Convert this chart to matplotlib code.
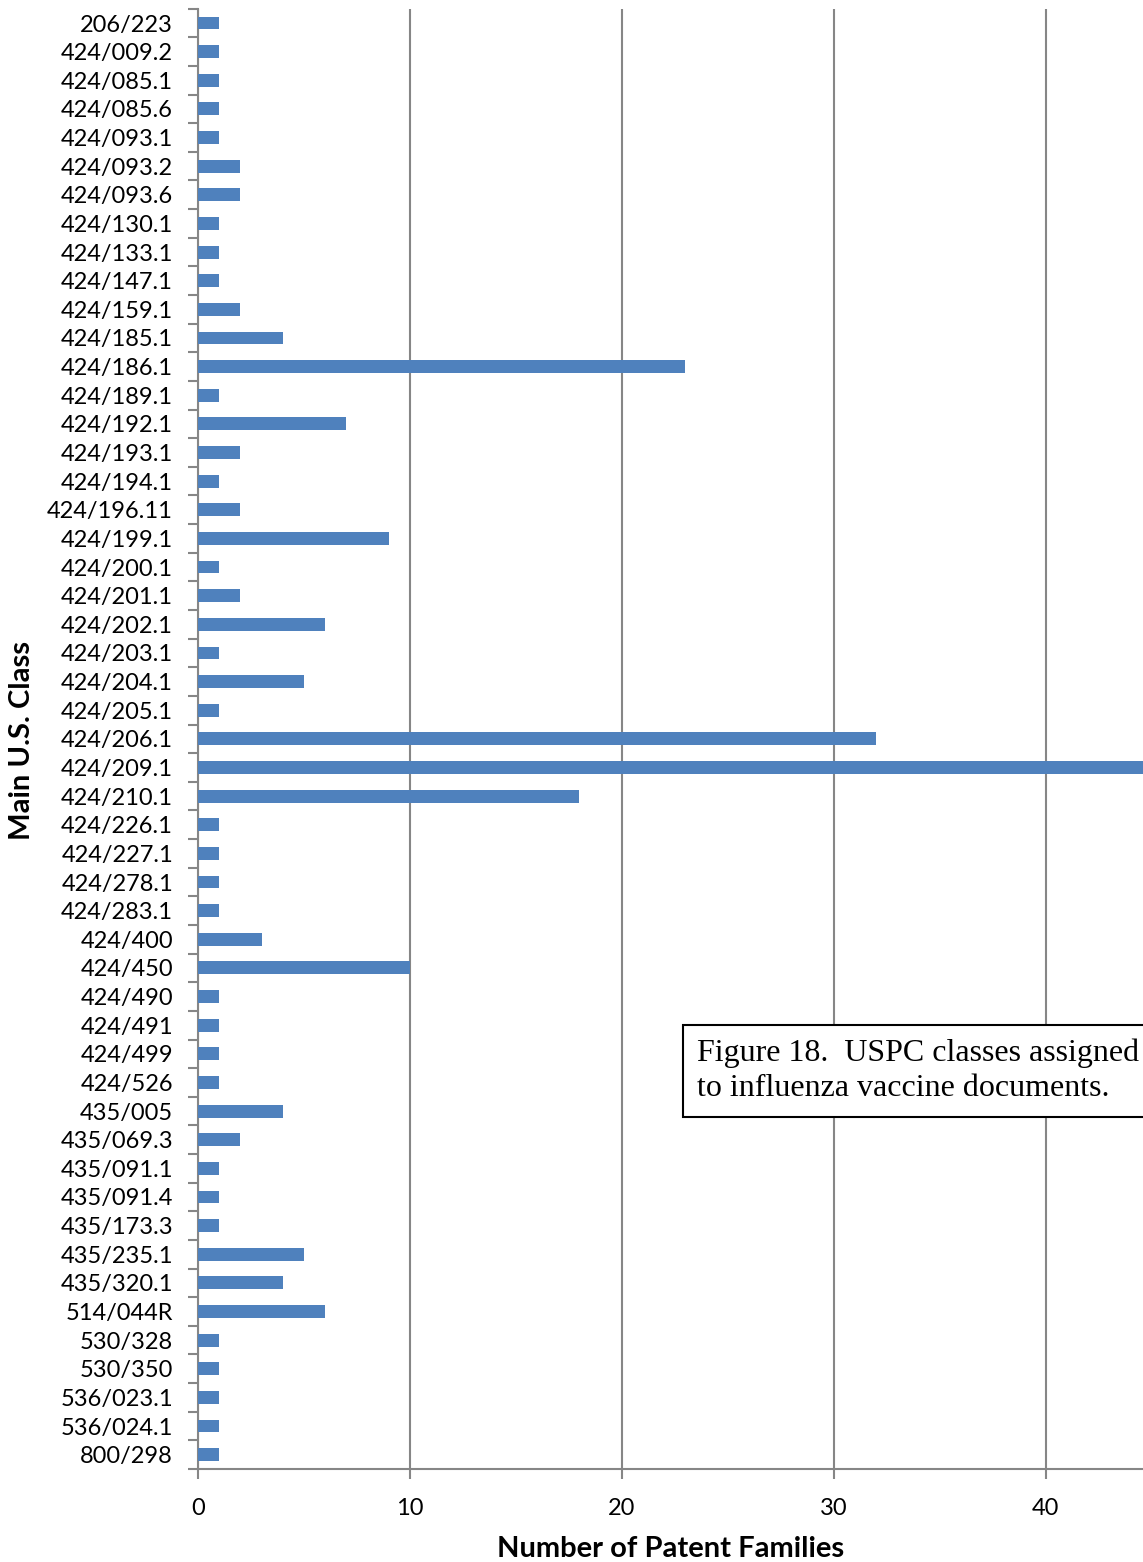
import matplotlib.pyplot as plt
import numpy as np

classes = [
    "206/223", "424/009.2", "424/085.1", "424/085.6", "424/093.1", "424/093.2",
    "424/093.6", "424/130.1", "424/133.1", "424/147.1", "424/159.1", "424/185.1",
    "424/186.1", "424/189.1", "424/192.1", "424/193.1", "424/194.1", "424/196.11",
    "424/199.1", "424/200.1", "424/201.1", "424/202.1", "424/203.1", "424/204.1",
    "424/205.1", "424/206.1", "424/209.1", "424/210.1", "424/226.1", "424/227.1",
    "424/278.1", "424/283.1", "424/400", "424/450", "424/490", "424/491",
    "424/499", "424/526", "435/005", "435/069.3", "435/091.1", "435/091.4",
    "435/173.3", "435/235.1", "435/320.1", "514/044R", "530/328", "530/350",
    "536/023.1", "536/024.1", "800/298",
]
families = [
    1, 1, 1, 1, 1, 2,
    2, 1, 1, 1, 2, 4,
    23, 1, 7, 2, 1, 2,
    9, 1, 2, 6, 1, 5,
    1, 32, 45, 18, 1, 1,
    1, 1, 3, 10, 1, 1,
    1, 1, 4, 2, 1, 1,
    1, 5, 4, 6, 1, 1,
    1, 1, 1,
]
xticks = [0, 10, 20, 30, 40]

plt.rcParams['font.family'] = ['Lato', 'DejaVu Sans']
grey = "#868686"

fig = plt.figure(figsize=(11.43, 15.62), dpi=100)
ax = fig.add_axes([198 / 1143, 1 - 1469 / 1562, 1 - 198 / 1143, (1469 - 8.7) / 1562])

y = np.arange(len(classes))
ax.barh(y, families, height=0.45, color="#4F81BD", zorder=3)
ax.set_ylim(len(classes) - 0.5, -0.5)
ax.set_xlim(0, 44.6)

ax.set_yticks(y)
ax.set_yticklabels(classes, fontsize=17)
ax.set_yticks(np.arange(-0.5, len(classes), 1), minor=True)
ax.tick_params(axis="y", which="major", length=0, pad=18)
ax.tick_params(axis="y", which="minor", length=7, width=1.5, color=grey)

ax.set_xticks(xticks)
ax.set_xticklabels([str(t) for t in xticks], fontsize=17)
ax.tick_params(axis="x", length=7, width=1.5, color=grey, pad=14)

ax.grid(axis="x", color=grey, linewidth=1.5, zorder=0)
for s in ["top", "right"]:
    ax.spines[s].set_visible(False)
for s in ["left", "bottom"]:
    ax.spines[s].set_color(grey)
    ax.spines[s].set_linewidth(1.5)

ax.set_xlabel("Number of Patent Families", fontsize=21, fontweight="bold", labelpad=12)
fig.text(22 / 1143, 1 - 740 / 1562, "Main U.S. Class", rotation=90, fontsize=21,
         fontweight="bold", ha="center", va="center")

fig.text(697 / 1143, 1 - 1071 / 1562,
         "Figure 18.  USPC classes assigned\nto influenza vaccine documents.",
         family=["Liberation Serif", "DejaVu Serif"], fontsize=23, ha="left", va="center",
         linespacing=1.25,
         bbox=dict(boxstyle="square,pad=0.45", facecolor="white", edgecolor="black", linewidth=1.5),
         zorder=10)

fig.savefig("out.png", dpi=100)
